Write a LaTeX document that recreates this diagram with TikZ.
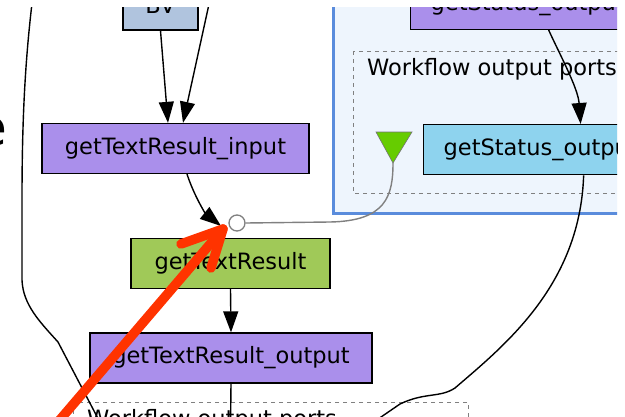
\documentclass[tikz,border=0pt]{standalone}
\usepackage{fontspec}
\setmainfont{DejaVu Sans}
\usetikzlibrary{arrows.meta}
\definecolor{boxpurple}{RGB}{170,143,235}
\definecolor{boxgreen}{RGB}{160,201,88}
\definecolor{boxcyan}{RGB}{142,211,238}
\definecolor{boxsteel}{RGB}{176,196,222}
\definecolor{panelfill}{RGB}{238,245,253}
\definecolor{panelline}{RGB}{90,140,220}
\definecolor{trigreen}{RGB}{102,204,0}
\definecolor{annotred}{RGB}{255,51,0}
\tikzset{
  box/.style={draw=black, line width=1.3pt, minimum height=50pt, inner sep=0pt,
              font=\fontsize{22.5}{27}\selectfont},
  leftbox/.style={box, inner xsep=20pt, text width=260pt, align=left},
  edge/.style={draw=black, line width=1.4pt, -{Triangle[length=21pt,width=15pt]}},
  plainedge/.style={draw=black, line width=1.4pt},
  portedge/.style={draw=gray, line width=1.4pt},
  dashbox/.style={draw=gray, line width=0.9pt, dash pattern=on 4pt off 4pt},
  lbl/.style={inner sep=0pt, font=\fontsize{22.5}{27}\selectfont},
  annot/.style={draw=annotred, line width=9.5pt, line cap=round, line join=round}
}
\begin{document}
\begin{tikzpicture}[x=1pt,y=-1pt]
\useasboundingbox (0,0) rectangle (625,416);
\fill[white] (0,0) rectangle (625,416);

% partial large letter at left edge (slide text)
\node[inner sep=0pt, anchor=base east, font=\fontsize{50}{50}\selectfont] (bige) at (7,145) {e};

\begin{scope}
\clip (10,7) rectangle (617,416);

% nested workflow panel (right)
\draw[fill=panelfill, draw=panelline, line width=3pt] (333,-20) rectangle (660,213);
\draw[dashbox] (353,51) rectangle (660,193);
\node[lbl, anchor=base west] (wop1) at (367,75) {Workflow output ports};

% bottom output ports box
\draw[dashbox] (73,402) rectangle (468,460);
\node[lbl, anchor=base west] (wop2) at (87,426) {Workflow output ports};

% processor boxes
\node[box, fill=boxsteel, minimum width=75pt] (bv) at (160.5,5) {BV};
\node[box, fill=boxpurple, minimum width=267pt] (inp) at (175.5,148.5) {getTextResult\_input};
\node[box, fill=boxgreen, minimum width=199pt] (grn) at (230.5,263.5) {getTextResult};
\node[box, fill=boxpurple, minimum width=282pt] (out) at (231,358) {getTextResult\_output};
\node[leftbox, fill=boxpurple, anchor=south west] (gst) at (410,30) {getStatus\_output};
\node[leftbox, fill=boxcyan, anchor=north west] (gso) at (423,124) {getStatus\_output};

% output port triangle and input port circle
\fill[trigreen, draw=black!55, line width=0.6pt] (376,132) -- (412,132) -- (393,163) -- cycle;
\coordinate (tri) at (393,163);
\node[circle, draw=gray, fill=white, line width=1.3pt, minimum size=16pt, inner sep=0pt] (port) at (237,223) {};

% off-picture ends
\coordinate (topin) at (211,-5);
\coordinate (tipA) at (221,226);
\coordinate (leftfar) at (33,-5);
\coordinate (leftend) at (104,430);
\coordinate (outend) at (230.5,430);
\coordinate (rightend) at (365,428);

% connectors
\draw[edge] (bv.south) -- ([xshift=-7.5pt]inp.north);
\draw[edge] (topin) -- ([xshift=7.5pt]inp.north);
\draw[edge] ([xshift=11.5pt]inp.south) .. controls (195,198) and (206,214) .. (tipA);
\draw[portedge] (port.east) -- (330,222) .. controls (386,221) and (393,196) .. (tri);
\draw[edge] (grn.south) -- (out.north);
\draw[plainedge] (out.south) -- (outend);
\draw[edge] ([xshift=-12pt]gst.south) .. controls (560,55) and (578,88) .. ([xshift=7pt]gso.north);
\draw[plainedge] ([xshift=10pt]gso.south) .. controls (580,285) and (505,345) .. (455,388)
   .. controls (440,398) and (425,392) .. (400,404) -- (rightend);
\draw[plainedge] (leftfar) .. controls (25,60) and (22,120) .. (22,200) -- (22,280)
   .. controls (23,305) and (40,322) .. (58,342) -- (leftend);

% red annotation arrow
\coordinate (rtip) at (223,229);
\coordinate (rarm1) at (181,244);
\coordinate (rarm2) at (211,268);
\coordinate (rtail) at (58,422);
\draw[annot] (rtail) -- (rtip);
\draw[annot] (rarm1) -- (rtip) -- (rarm2);
\end{scope}
\end{tikzpicture}
\end{document}
